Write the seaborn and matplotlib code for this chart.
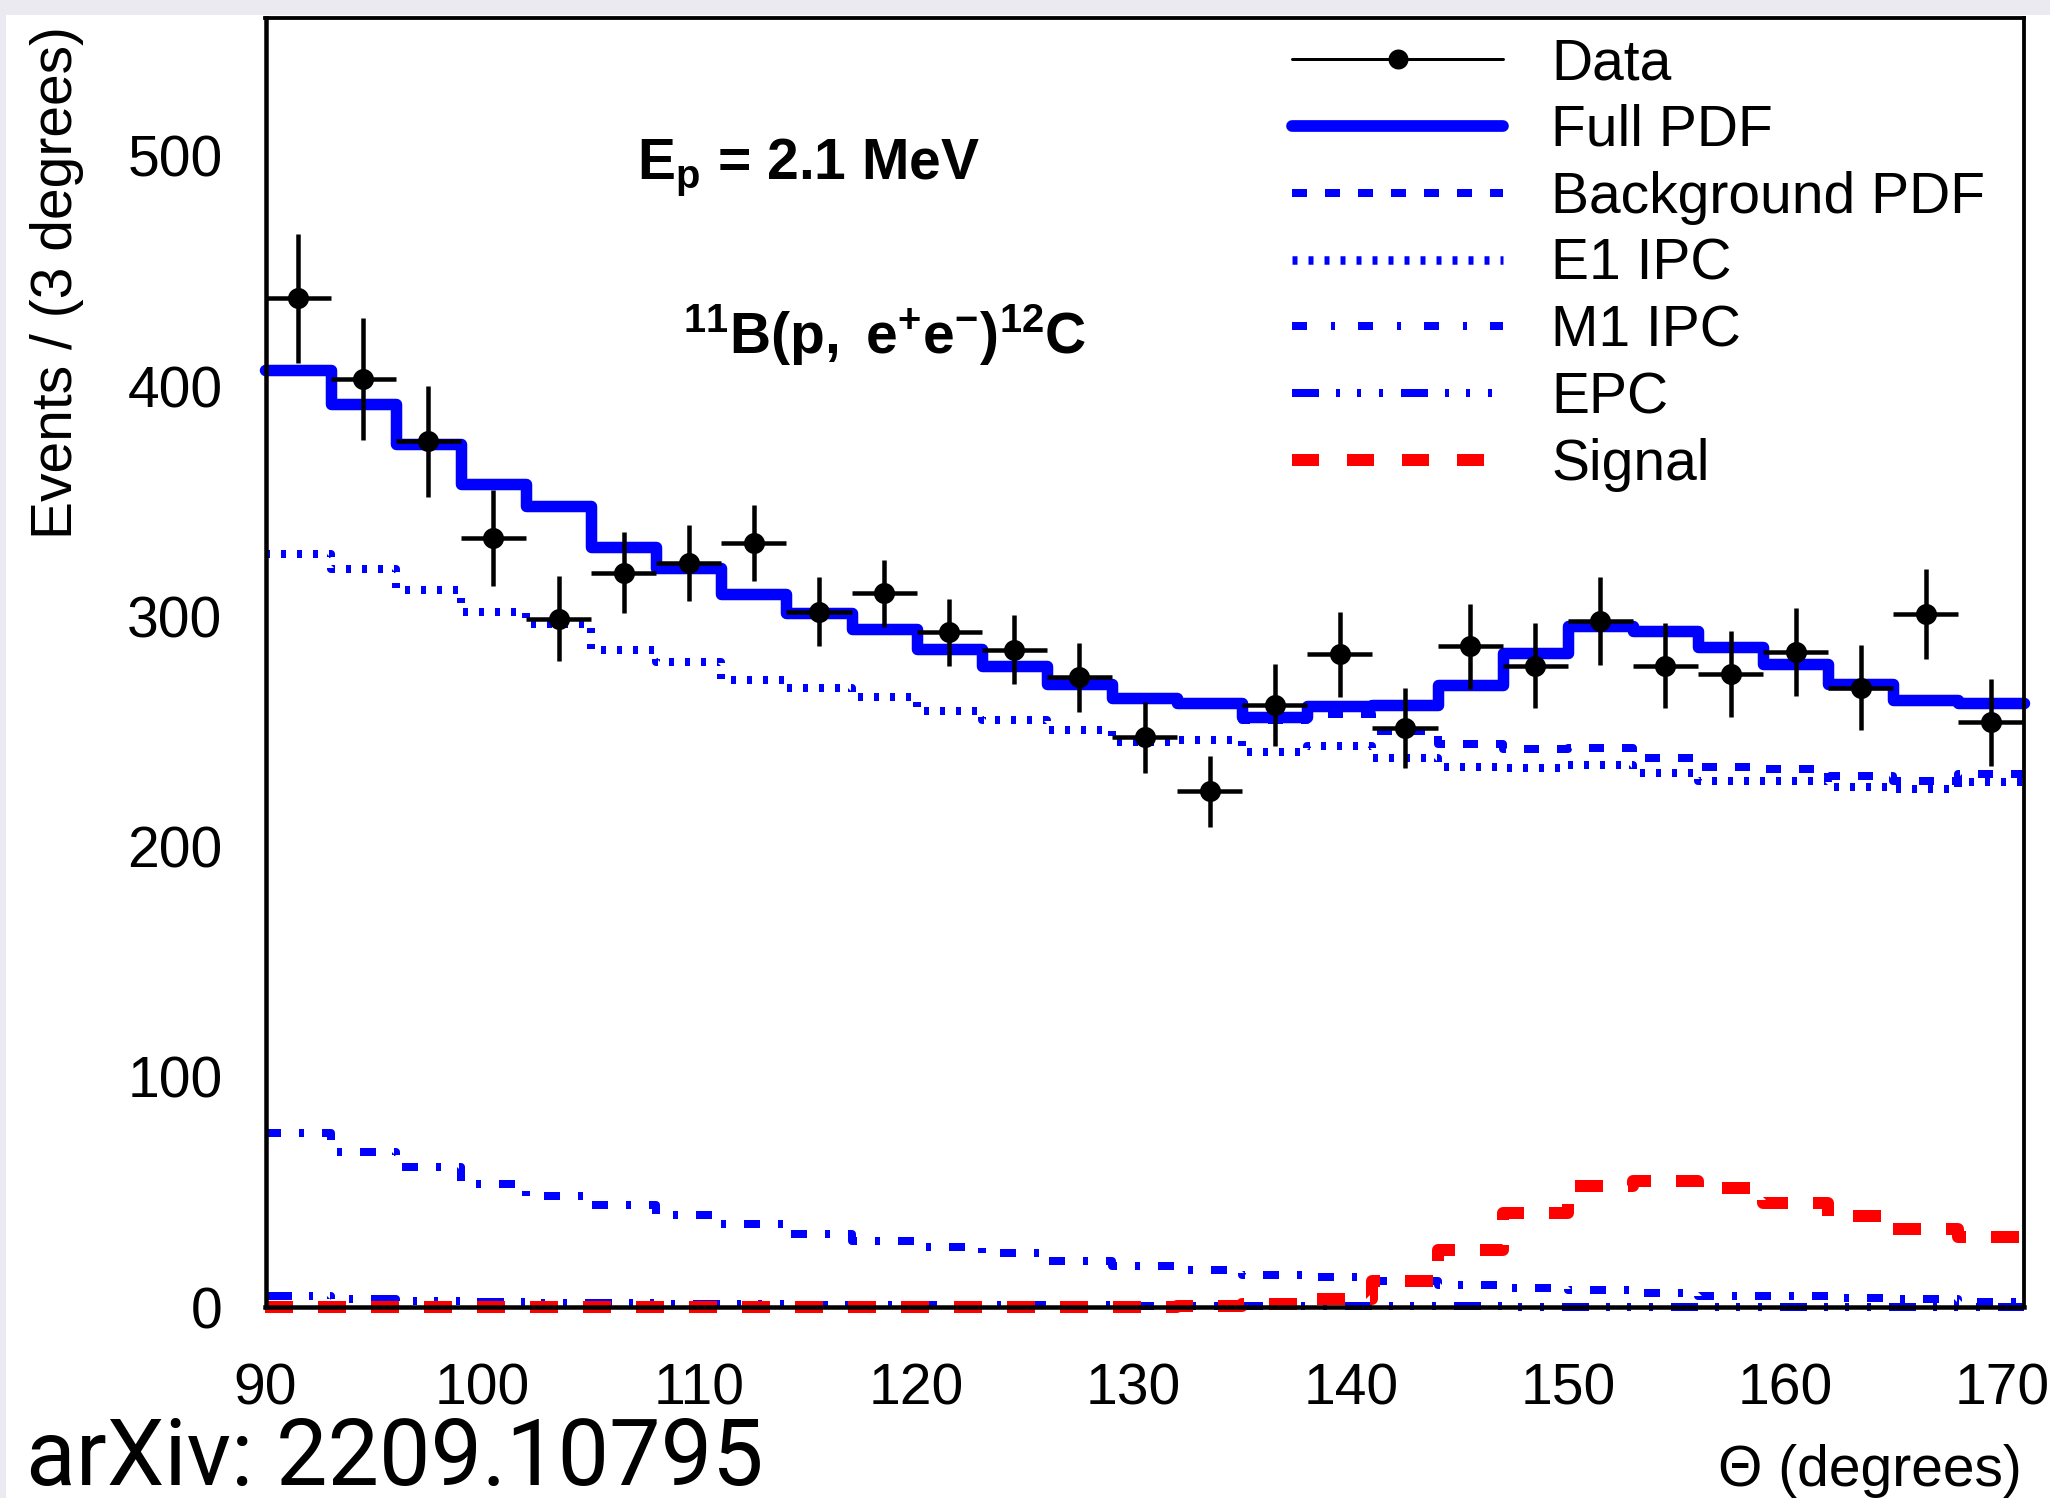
import numpy as np
import matplotlib
matplotlib.use("Agg")
import matplotlib.pyplot as plt
from matplotlib.lines import Line2D
from matplotlib.patches import Rectangle
from matplotlib.ticker import MultipleLocator
import seaborn as sns

# ---------------- data ----------------
theta_edges = [90, 93, 96, 99, 102, 105, 108, 111, 114, 117, 120, 123, 126, 129,
               132, 135, 138, 141, 144, 147, 150, 153, 156, 159, 162, 165, 168, 171]
theta_centers = [91.5, 94.5, 97.5, 100.5, 103.5, 106.5, 109.5, 112.5, 115.5, 118.5,
                 121.5, 124.5, 127.5, 130.5, 133.5, 136.5, 139.5, 142.5, 145.5, 148.5,
                 151.5, 154.5, 157.5, 160.5, 163.5, 166.5, 169.5]

data_counts = [438, 403, 376, 334, 299, 319, 323, 332, 302, 310, 293, 285.5, 273.5,
               247.5, 224, 261.5, 283.5, 251.5, 287, 278.5, 298, 278.5, 275, 284.5,
               269, 301, 254]
data_err = [28, 26.5, 24, 21, 18.5, 17.5, 16.5, 16.5, 15, 14.5, 14.5, 15, 15, 15.5,
            15.5, 18, 18.5, 17.5, 18.5, 18.5, 19, 18.5, 18.5, 19, 18.5, 19.5, 19]

full_pdf = [407, 392, 375, 357.5, 348, 330, 321, 309.5, 301.5, 294.5, 286, 278.5,
            270.5, 264.5, 262.5, 256.5, 261, 261.5, 270, 284, 296, 293.5, 286.5,
            279.5, 270.5, 263.5, 262.5]
background_pdf = [407, 392, 375, 357.5, 348, 330, 321, 309.5, 301.5, 294.5, 286,
                  278.5, 270.5, 264.4, 262.1, 255, 257.5, 250, 244.5, 242.5, 243,
                  238.5, 234.5, 233.5, 230.5, 228.5, 231.5]
e1_ipc = [327, 320.5, 311.5, 302, 296.5, 285.5, 280, 272.5, 269, 265, 259, 255, 250.5,
          245.5, 246.5, 241, 243.5, 238.5, 234.5, 234, 235.5, 232, 228.5, 228.5, 226,
          225, 228]
m1_ipc = [75.5, 67.5, 61, 53.5, 48.5, 44.5, 40, 36, 32, 29, 26, 23.5, 20, 18, 16, 14,
          13, 11.5, 9.5, 8.5, 7.5, 6, 5, 5, 4, 3.5, 2.5]
epc = [5, 3.5, 2.8, 2.3, 2, 1.7, 1.5, 1.3, 1.2, 1.1, 1, 0.9, 0.8, 0.7, 0.6, 0.5, 0.5,
       0.4, 0.4, 0.3, 0.3, 0.3, 0.3, 0.2, 0.2, 0.2, 0.2]
signal = [0, 0, 0, 0, 0, 0, 0, 0, 0, 0, 0, 0, 0, 0.1, 0.4, 1.5, 3.5, 11.5, 25, 41,
          52.5, 55, 52, 45.5, 39.5, 34, 30.5]

legend_labels = ["Data", "Full PDF", "Background PDF", "E1 IPC", "M1 IPC", "EPC", "Signal"]
x_ticks = [90, 100, 110, 120, 130, 140, 150, 160, 170]
y_ticks = [0, 100, 200, 300, 400, 500]

# ---------------- style ----------------
sns.set_style("white")
plt.rcParams['font.family'] = ['Liberation Sans', 'DejaVu Sans']
plt.rcParams['mathtext.fontset'] = 'custom'
plt.rcParams['mathtext.rm'] = 'Liberation Sans'
plt.rcParams['mathtext.bf'] = 'Liberation Sans:bold'
plt.rcParams['mathtext.it'] = 'Liberation Sans:italic'
plt.rcParams['lines.scale_dashes'] = False
plt.rcParams['text.color'] = 'black'
plt.rcParams['axes.labelcolor'] = 'black'
plt.rcParams['xtick.color'] = 'black'
plt.rcParams['ytick.color'] = 'black'

PX = 0.72  # pixel -> point at dpi 100
W, H = 2050, 1498
BLUE = '#0000FF'
RED = '#FF0000'
FS = 41

def d(*px):
    return tuple(v * PX for v in px)

fig = plt.figure(figsize=(W / 100, H / 100), dpi=100, facecolor='#EAEAF0')
fig.patches.append(Rectangle((6 / W, 0), 1, 1 - 15 / H, transform=fig.transFigure,
                             facecolor='white', edgecolor='none', zorder=-1))

ax = fig.add_axes([265.5 / W, 190.7 / H, (2023.6 - 265.5) / W, (1480.5 - 190.7) / H])
ax.set_facecolor('white')

styles = [
    (background_pdf, BLUE, 8 * PX, dict(dashes=d(15, 18)), 2.0),
    (e1_ipc, BLUE, 8 * PX, dict(dashes=d(5, 11)), 2.1),
    (m1_ipc, BLUE, 8 * PX, dict(dashes=d(16, 18, 5, 18)), 2.2),
    (epc, BLUE, 8 * PX, dict(dashes=d(27, 17, 4, 17, 4, 18, 4, 18)), 2.3),
    (signal, RED, 12 * PX, dict(dashes=d(28, 25)), 2.4),
    (full_pdf, BLUE, 11.5 * PX, dict(linestyle='-'), 2.6),
]
for vals, col, lw, ls, z in styles:
    sns.histplot(x=theta_centers, weights=vals, bins=theta_edges, element='step',
                 fill=False, color=col, linewidth=lw, ax=ax, clip_on=False,
                 zorder=z, **ls)

half_w = np.diff(theta_edges) / 2
ax.errorbar(theta_centers, data_counts, xerr=half_w, yerr=data_err, fmt='o',
            color='k', ms=21 * PX, mew=0, elinewidth=4.5 * PX, capsize=6.5 * PX,
            capthick=4.5 * PX, zorder=5, clip_on=False)

ax.set_xlim(90, 171)
ax.set_ylim(0, 560)
ax.set_xticks(x_ticks)
ax.set_yticks(y_ticks)
ax.xaxis.set_minor_locator(MultipleLocator(2))
ax.yaxis.set_minor_locator(MultipleLocator(20))
ax.set_axisbelow(False)
ax.tick_params(which='both', direction='in', top=False, right=False,
               labelsize=FS, width=4 * PX, color='k', labelcolor='k')
ax.tick_params(axis='x', which='major', length=41 * PX, pad=40)
ax.tick_params(axis='x', which='minor', length=20 * PX)
ax.tick_params(axis='y', which='major', length=50 * PX, pad=31)
ax.tick_params(axis='y', which='minor', length=25 * PX)
ax.set_xlabel('')
ax.set_ylabel('')
for side in ['left', 'bottom']:
    ax.spines[side].set_linewidth(4.5 * PX)
for side in ['top', 'right']:
    ax.spines[side].set_linewidth(3.8 * PX)
for sp in ax.spines.values():
    sp.set_color('k')
    sp.set_zorder(6)

# legend
handles = [
    Line2D([], [], color='k', lw=3 * PX, marker='o', ms=20 * PX, mew=0),
    Line2D([], [], color=BLUE, lw=11.7 * PX),
    Line2D([], [], color=BLUE, lw=8 * PX, dashes=d(15, 18)),
    Line2D([], [], color=BLUE, lw=8.5 * PX, dashes=d(5, 11)),
    Line2D([], [], color=BLUE, lw=8 * PX, dashes=d(15, 24, 4, 23)),
    Line2D([], [], color=BLUE, lw=8 * PX, dashes=d(27, 17, 4, 17, 4, 18, 4, 18)),
    Line2D([], [], color=RED, lw=12 * PX, dashes=d(27, 28)),
]
leg = fig.legend(handles, legend_labels, loc='upper left',
                 bbox_to_anchor=(1292 / W, 1 - 37 / H), frameon=False, fontsize=FS,
                 handlelength=3.71, handletextpad=0.84, labelspacing=0.225,
                 borderpad=0, borderaxespad=0, numpoints=1, labelcolor='black')

# texts
fig.text(637 / W, 1 - 179.4 / H, r'$\mathbf{E_p}$ = 2.1 MeV', fontsize=FS,
         fontweight='bold', va='baseline', ha='left', color='black')
fig.text(683 / W, 1 - 354 / H,
         r'$\mathbf{{}^{11}B(p,}$ $\mathbf{e^{+}e^{-}){}^{12}C}$',
         fontsize=FS, va='baseline', ha='left', color='black')
fig.text(57 / W, 1 - 26 / H, 'Events / (3 degrees)', rotation=90, ha='center',
         va='top', fontsize=FS, color='black')
fig.text(2021.7 / W, 1 - 1486 / H, 'Θ (degrees)', ha='right', va='baseline',
         fontsize=FS, color='black')
fig.text(26 / W, 1 - 1485 / H, 'arXiv: 2209.10795', fontsize=66,
         family=['Roboto', 'DejaVu Sans'], fontweight='normal', va='baseline',
         ha='left', color='black')

fig.savefig('out.png', dpi=100, facecolor=fig.get_facecolor())
